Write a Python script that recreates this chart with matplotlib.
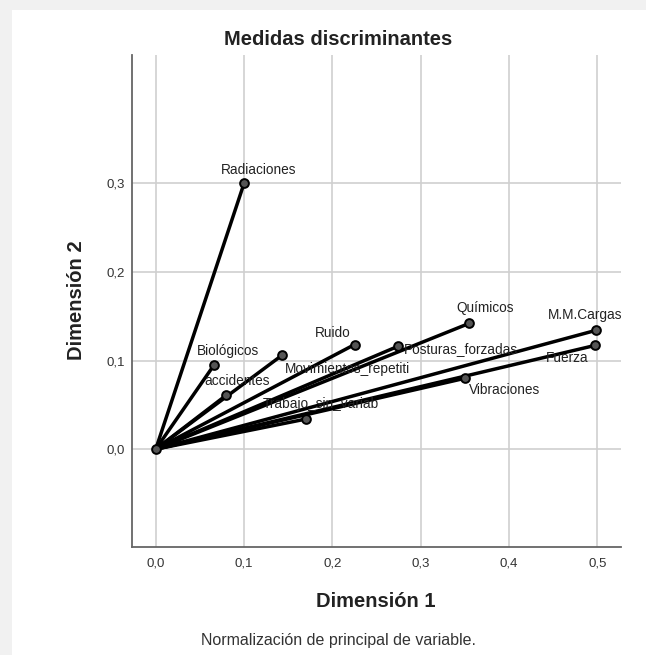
import matplotlib
matplotlib.use("Agg")
import matplotlib.pyplot as plt
from matplotlib.ticker import FuncFormatter
from matplotlib.patches import Rectangle

# ---- data (discrimination measures) ----
variables = ["Radiaciones", "Biológicos", "accidentes", "Movimientos_repetiti",
             "Ruido", "Trabajo_sin_variab", "Posturas_forzadas", "Químicos",
             "M.M.Cargas", "Fuerza", "Vibraciones"]
dim1 = [0.100, 0.066, 0.080, 0.143, 0.225, 0.170, 0.274, 0.355, 0.498, 0.497, 0.350]
dim2 = [0.300, 0.095, 0.061, 0.106, 0.118, 0.034, 0.116, 0.142, 0.134, 0.117, 0.080]
x_ticks = [0.0, 0.1, 0.2, 0.3, 0.4, 0.5]
y_ticks = [0.0, 0.1, 0.2, 0.3]

# label offsets in pixels (style only)
label_offsets = {
    "Radiaciones": (15, 13), "Biológicos": (14, 14), "accidentes": (11, 14),
    "Movimientos_repetiti": (65, -14), "Ruido": (-22, 12),
    "Trabajo_sin_variab": (15, 15), "Posturas_forzadas": (63, -3),
    "Químicos": (16, 15), "M.M.Cargas": (-11, 15), "Fuerza": (-28, -13),
    "Vibraciones": (40, -12),
}

W, H = 646, 655
plt.rcParams['font.family'] = ['Liberation Sans', 'DejaVu Sans']
fig = plt.figure(figsize=(W / 100, H / 100), dpi=100)
fig.patch.set_facecolor('#f1f1f1')
fig.add_artist(Rectangle((12 / W, 0), 1 - 12 / W, 1 - 10 / H,
                         transform=fig.transFigure, facecolor='white',
                         edgecolor='none', zorder=0))

L, R, B, T = 131.7, 621.3, 546.7, 55.0
ax = fig.add_axes([L / W, 1 - B / H, (R - L) / W, (B - T) / H])
ax.set_facecolor('none')
ax.set_xlim(-0.0272, 0.527)
ax.set_ylim(-0.110, 0.4447)

ax.set_xticks(x_ticks)
ax.set_yticks(y_ticks)
fmt = FuncFormatter(lambda v, p: f"{v:.1f}".replace('.', ','))
ax.xaxis.set_major_formatter(fmt)
ax.yaxis.set_major_formatter(fmt)
ax.tick_params(axis='both', length=0, labelsize=9.5, colors='#333333')
ax.tick_params(axis='x', pad=8)
ax.tick_params(axis='y', pad=5)
ax.grid(True, color='#cfcfcf', linewidth=1.2, zorder=1)
ax.set_axisbelow(True)
for s in ['top', 'right']:
    ax.spines[s].set_visible(False)
for s in ['left', 'bottom']:
    ax.spines[s].set_color('#666666')
    ax.spines[s].set_linewidth(1.3)

for name, x, y in zip(variables, dim1, dim2):
    ax.plot([0, x], [0, y], color='black', linewidth=2.5, solid_capstyle='round', zorder=3)
ax.plot(dim1, dim2, 'o', markersize=6.3, markerfacecolor='#555555',
        markeredgecolor='black', markeredgewidth=1.4, zorder=4)
ax.plot([0], [0], 'o', markersize=6.3, markerfacecolor='#555555',
        markeredgecolor='black', markeredgewidth=1.4, zorder=4)

for name, x, y in zip(variables, dim1, dim2):
    dx, dy = label_offsets[name]
    ax.annotate(name, (x, y), xytext=(dx, dy), textcoords='offset pixels',
                ha='center', va='center', fontsize=9.8, color='#222222', zorder=5)

fig.text(337.7 / W, 1 - 39.3 / H, "Medidas discriminantes", ha='center', va='center',
         fontsize=14.5, fontweight='bold', color='#222222')
fig.text(376 / W, 1 - 601.7 / H, "Dimensión 1", ha='center', va='center',
         fontsize=14.5, fontweight='bold', color='#222222')
fig.text(76.7 / W, 1 - 300 / H, "Dimensión 2", ha='center', va='center', rotation=90,
         fontsize=14.5, fontweight='bold', color='#222222')
fig.text(338.5 / W, 1 - 641 / H, "Normalización de principal de variable.",
         ha='center', va='center', fontsize=11.5, color='#333333')

fig.savefig("out.png", dpi=100, facecolor=fig.get_facecolor())
